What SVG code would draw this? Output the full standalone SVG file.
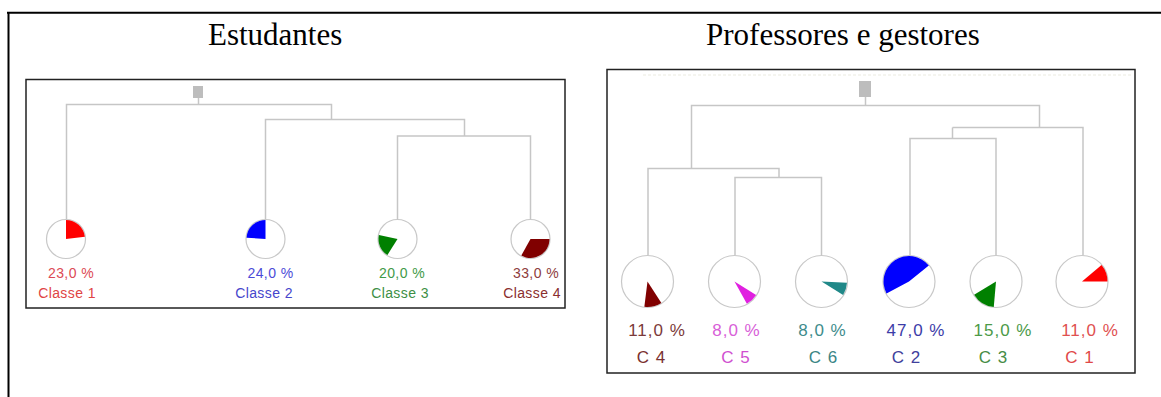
<svg xmlns="http://www.w3.org/2000/svg" width="1161" height="397" viewBox="0 0 1161 397">
<style>
.title{font-family:"Liberation Serif","Times New Roman",serif;font-size:31px;fill:#000}
.box{fill:#fff;stroke:#222;stroke-width:1.5}
.frame{stroke:#000;stroke-width:2;fill:none}
.link{fill:none;stroke:#c6c6c6;stroke-width:1.5}
.pie{fill:#fff;stroke:#c8c8c8;stroke-width:1.2}
.root{fill:#bdbdbd}
.lp{font-family:"Liberation Sans",Arial,sans-serif;font-size:14px;text-anchor:middle;letter-spacing:0.4px}
.rp{font-family:"Liberation Sans",Arial,sans-serif;font-size:17px;text-anchor:middle;letter-spacing:1px}
</style>
<rect width="1161" height="397" fill="#fff"/>
<path class="frame" d="M7,12.8 H1161 M8.5,12 V397"/>
<text class="title" x="208" y="45">Estudantes</text>
<text class="title" x="706" y="45">Professores e gestores</text>
<rect class="box" x="26" y="79.5" width="539" height="228.5"/>
<rect class="box" x="607" y="69.5" width="528" height="303.5"/>
<line x1="643" y1="75" x2="1133" y2="75" stroke="#ebebe0" stroke-width="1" stroke-dasharray="3,2"/>

<g id="connectors">
<rect class="root" x="193" y="86" width="10" height="12"/>
<path class="link" d="M198.5,98 V104.5 M66.5,219.5 V104.5 H331.5 V119.5 M265.5,219.5 V119.5 H464.5 V136 M397.5,219.5 V136 H530.5 V219.5"/>
<rect class="root" x="859" y="81" width="12" height="16"/>
<path class="link" d="M865.5,97 V105.5 M691.5,168.5 V105.5 H1039.5 V127.5 M648,255.5 V168.5 H779 V177.5 M735,255.5 V177.5 H821.5 V255.5 M952.5,127.5 V138.5 M910,255.5 V138.5 H996 V255.5 M952.5,127.5 H1083 V255.5"/>
</g>

<g id="classe1">
<circle class="pie" cx="66" cy="239" r="19.5"/>
<path d="M66,239 L66,220 A19,19 0 0 1 84.86,236.68 Z" fill="#ff0000"/>
<text class="lp" x="71" y="278" fill="#dc4a55">23,0 %</text>
<text class="lp" x="67" y="298" fill="#e04444">Classe 1</text>
</g>
<g id="classe2">
<circle class="pie" cx="265.5" cy="239" r="19.5"/>
<path d="M265.5,239 L246.55,237.67 A19,19 0 0 1 265.5,220 Z" fill="#0000ff"/>
<text class="lp" x="270.5" y="278" fill="#4b4bd8">24,0 %</text>
<text class="lp" x="264" y="298" fill="#4646cc">Classe 2</text>
</g>
<g id="classe3">
<circle class="pie" cx="397.5" cy="239" r="19.5"/>
<path d="M397.5,239 L387.43,255.11 A19,19 0 0 1 378.92,235.05 Z" fill="#008000"/>
<text class="lp" x="402" y="278" fill="#3f9a48">20,0 %</text>
<text class="lp" x="400" y="298" fill="#3d8f45">Classe 3</text>
</g>
<g id="classe4">
<circle class="pie" cx="530.5" cy="239" r="19.5"/>
<path d="M530.5,239 L549.5,239 A19,19 0 0 1 521.29,255.62 Z" fill="#800000"/>
<text class="lp" x="536" y="278" fill="#8e3c3c">33,0 %</text>
<text class="lp" x="532" y="298" fill="#8a2e2e">Classe 4</text>
</g>

<g id="c4">
<circle class="pie" cx="647.5" cy="281.5" r="26"/>
<path d="M647.5,281.5 L661.39,302.89 A25.5,25.5 0 0 1 644.39,306.81 Z" fill="#800000"/>
<text class="rp" x="657" y="336" fill="#7c3a3a">11,0 %</text>
<text class="rp" x="651.5" y="363" fill="#7a3030">C 4</text>
</g>
<g id="c5">
<circle class="pie" cx="734.5" cy="281.5" r="26"/>
<path d="M734.5,281.5 L756.12,295.01 A25.5,25.5 0 0 1 746.86,303.8 Z" fill="#e020e0"/>
<text class="rp" x="736.5" y="336" fill="#d860d8">8,0 %</text>
<text class="rp" x="736" y="363" fill="#d050d0">C 5</text>
</g>
<g id="c6">
<circle class="pie" cx="821.5" cy="281.5" r="26"/>
<path d="M821.5,281.5 L846.96,282.83 A25.5,25.5 0 0 1 843.12,295.01 Z" fill="#208888"/>
<text class="rp" x="822.5" y="336" fill="#3e8c8c">8,0 %</text>
<text class="rp" x="823.5" y="363" fill="#3a8585">C 6</text>
</g>
<g id="c2">
<circle class="pie" cx="909" cy="281.5" r="26"/>
<path d="M909,281.5 L886.49,293.47 A25.5,25.5 0 0 1 928.82,265.45 Z" fill="#0000ff"/>
<text class="rp" x="916" y="336" fill="#3c3ca8">47,0 %</text>
<text class="rp" x="906.5" y="363" fill="#40409c">C 2</text>
</g>
<g id="c3">
<circle class="pie" cx="996" cy="281.5" r="26"/>
<path d="M996,281.5 L993.78,306.9 A25.5,25.5 0 0 1 974.14,294.63 Z" fill="#008000"/>
<text class="rp" x="1003" y="336" fill="#4c9a48">15,0 %</text>
<text class="rp" x="993.5" y="363" fill="#468c46">C 3</text>
</g>
<g id="c1">
<circle class="pie" cx="1082" cy="281.5" r="26"/>
<path d="M1082,281.5 L1101.53,265.11 A25.5,25.5 0 0 1 1107.5,281.5 Z" fill="#ff0000"/>
<text class="rp" x="1090" y="336" fill="#e05050">11,0 %</text>
<text class="rp" x="1080" y="363" fill="#e04848">C 1</text>
</g>
</svg>
